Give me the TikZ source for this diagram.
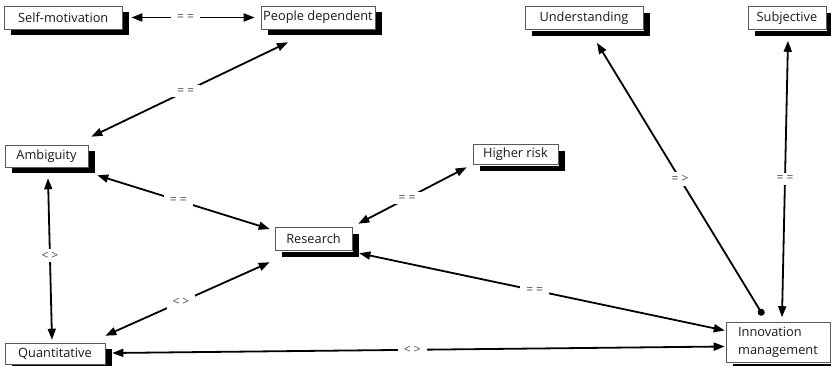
\documentclass[tikz,border=0pt]{standalone}
\usepackage{fontspec}
\setmainfont{Open Sans}
\usetikzlibrary{arrows.meta,shadows}
\begin{document}
\begin{tikzpicture}[x=1pt,y=-1pt,
  box/.style={draw=black!65, line width=0.6pt, fill=white, inner sep=0pt,
    font=\fontsize{12.8}{18}\selectfont, text=black!90,
    drop shadow={shadow xshift=6.5pt,shadow yshift=-6.5pt,fill=black,opacity=1},
    preaction={draw=white,line width=2.5pt}},
  link/.style={line width=1.8pt, {Triangle[length=11pt,width=8pt]}-{Triangle[length=11pt,width=8pt]}},
  dotlink/.style={line width=1.8pt, {Circle[length=7pt]}-{Triangle[length=11pt,width=8pt]}},
  lbl/.style={fill=white, font=\fontsize{12}{13}\selectfont, text=black!70, inner xsep=6pt, inner ysep=3pt}
]
\useasboundingbox (0,0) rectangle (831,366);

\node[box, minimum width=117.5pt, minimum height=23pt] (sm) at (63.25,17.5) {Self-motivation};
\node[box, minimum width=114pt, minimum height=23pt] (pd) at (318,17.5) {People dependent};
\node[box, minimum width=118pt, minimum height=23pt] (un) at (584,18) {Understanding};
\node[box, minimum width=78pt, minimum height=23pt] (sj) at (787,18) {Subjective};
\node[box, minimum width=83pt, minimum height=22pt] (am) at (46.5,156) {Ambiguity};
\node[box, minimum width=85pt, minimum height=20pt] (hr) at (515.5,154.5) {Higher risk};
\node[box, minimum width=77pt, minimum height=23pt] (re) at (313.5,239) {Research};
\node[box, minimum width=100pt, minimum height=21pt] (qu) at (55,353.5) {Quantitative};
\node[box, minimum width=104pt, minimum height=40pt, align=left] (im) at (778,342.5) {Innovation\\management};

\draw[link] ([shift={(9,0)}]sm.east) -- node[lbl,pos=0.44]{= =} ([shift={(-6,0)}]pd.west);
\draw[link] ([shift={(-30,13)}]pd.south) -- node[lbl,pos=0.52]{= =} ([shift={(3,-8)}]am.north east);
\draw[link] ([shift={(9,8)}]am.south east) -- node[lbl,pos=0.47]{= =} ([shift={(-5,-10)}]re.west);
\draw[link] ([shift={(-6,2.5)}]hr.south west) -- node[lbl,pos=0.55]{= =} ([shift={(6,-3.5)}]re.north east);
\draw[link] ([shift={(1.5,11)}]am.south) -- node[lbl,pos=0.48]{< >} ([shift={(-3,-3)}]qu.north);
\draw[link] ([shift={(-5,11.5)}]re.south west) -- node[lbl,pos=0.54]{< >} ([shift={(0,-7)}]qu.north east);
\draw[link] ([shift={(7,2.5)}]re.south east) -- node[lbl,pos=0.48]{= =} ([shift={(-1,-12)}]im.west);
\draw[link] ([shift={(7,-0.5)}]qu.east) -- node[lbl,pos=0.49]{< >} ([shift={(-1,4)}]im.west);
\draw[dotlink] ([shift={(-15,-7)}]im.north) -- node[lbl,pos=0.5]{= >} ([shift={(13,13)}]un.south);
\draw[link] ([shift={(4,-5)}]im.north) -- node[lbl,pos=0.5]{= =} ([shift={(1,11)}]sj.south);
\end{tikzpicture}
\end{document}
